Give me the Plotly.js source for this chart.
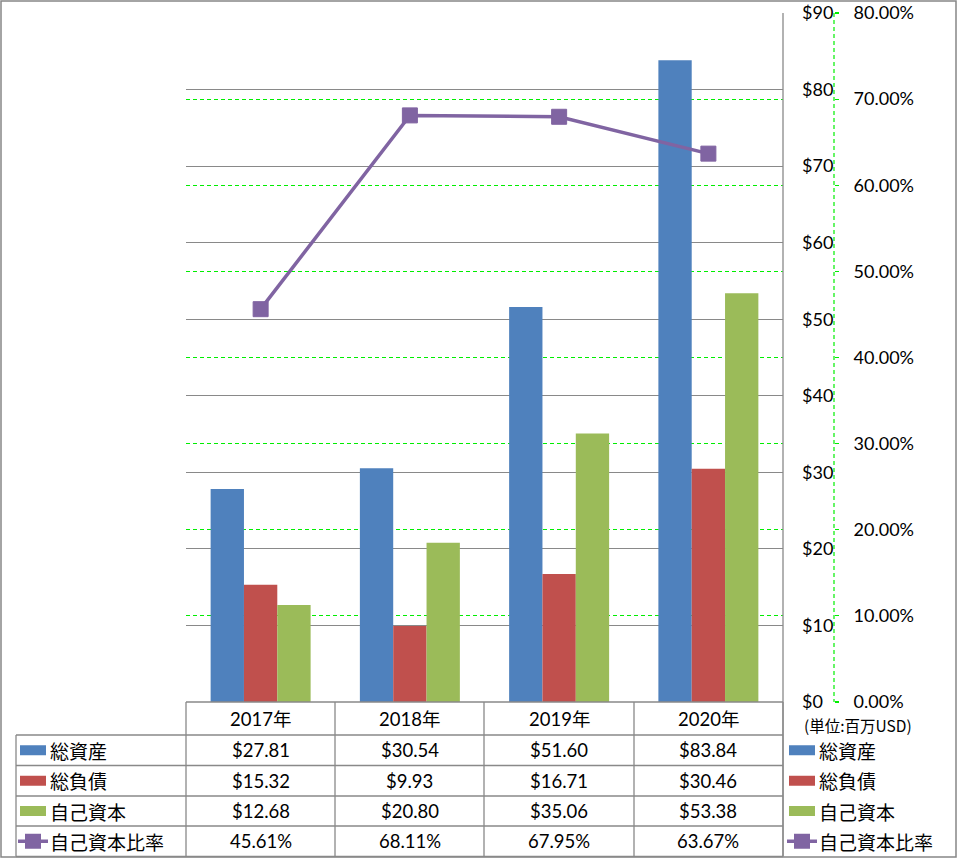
<!DOCTYPE html>
<html>
<head>
<meta charset="utf-8">
<script src="https://cdn.plot.ly/plotly-3.0.1.min.js"></script>
<style>
html,body{margin:0;padding:0;background:#fff;}
#chart{width:957px;height:858px;}
</style>
</head>
<body>
<div id="chart"></div>
<script>
// ---- data ----
const categories = ['2017年', '2018年', '2019年', '2020年'];
const totalAssets = [27.81, 30.54, 51.60, 83.84];
const totalLiabilities = [15.32, 9.93, 16.71, 30.46];
const equity = [12.68, 20.80, 35.06, 53.38];
const equityRatio = [0.4561, 0.6811, 0.6795, 0.6367];
const seriesNames = ['総資産', '総負債', '自己資本', '自己資本比率'];
const unitLabel = '(単位:百万USD)';

// ---- styling ----
const W = 957, H = 858;
const colBlue = '#4F81BD', colRed = '#C0504D', colGreen = '#9BBB59', colPurple = '#8064A2';
const gridGray = '#898989';
const lime = '#00EE00';
const numFont = 'Lato, "Noto Sans CJK JP", sans-serif';
const jpFont = '"Noto Sans CJK JP", Lato, sans-serif';

const px = x => x / W;
const py = y => 1 - y / H;

const plotL = 186, plotR = 783, plotT = 13, plotB = 702;
const axis2X = 834;

const traces = [
  {type: 'bar', name: seriesNames[0], x: categories, y: totalAssets, marker: {color: colBlue}, hoverinfo: 'skip'},
  {type: 'bar', name: seriesNames[1], x: categories, y: totalLiabilities, marker: {color: colRed}, hoverinfo: 'skip'},
  {type: 'bar', name: seriesNames[2], x: categories, y: equity, marker: {color: colGreen}, hoverinfo: 'skip'},
  {type: 'scatter', mode: 'lines+markers', name: seriesNames[3], x: categories, y: equityRatio, yaxis: 'y2',
   line: {color: colPurple, width: 3.5}, marker: {symbol: 'square', size: 15, color: colPurple, line: {color: colPurple, width: 1}}, hoverinfo: 'skip'}
];

// ---- table geometry ----
const rowEdges = [702, 735, 765.5, 796, 826, 856.5];
const colEdges = [plotL, 335, 484, 634, plotR];
const labelLeft = 16;

const shapes = [];
const annotations = [];
const line = (x0, y0, x1, y1, color, width, dash) => shapes.push({type: 'line', xref: 'paper', yref: 'paper',
  x0: px(x0), y0: py(y0), x1: px(x1), y1: py(y1), line: {color: color, width: width, dash: dash || 'solid'}, layer: 'above'});

// outer border
shapes.push({type: 'rect', xref: 'paper', yref: 'paper', x0: px(1), y0: py(1), x1: px(956), y1: py(857),
  line: {color: '#868686', width: 1.5}, layer: 'below'});
// plot right border
line(plotR, plotT, plotR, rowEdges[5], gridGray, 1.3);
// secondary axis dashed line
line(axis2X, plotT, axis2X, plotB, lime, 1.2, '4px,3px');
// table header top (x axis)
line(plotL, plotB, plotR, plotB, gridGray, 1.3);
// horizontal table lines
for (let i = 1; i < rowEdges.length; i++) line(labelLeft, rowEdges[i], plotR, rowEdges[i], gridGray, 1.3);
// vertical lines
line(labelLeft, rowEdges[1], labelLeft, rowEdges[5], gridGray, 1.3);
colEdges.forEach(x => line(x, plotB, x, rowEdges[5], gridGray, 1.3));

// header category labels
categories.forEach((c, i) => annotations.push({xref: 'x', yref: 'paper', x: c, y: py((rowEdges[0] + rowEdges[1]) / 2),
  text: c, showarrow: false, xanchor: 'center', yanchor: 'middle', font: {family: numFont, size: 18.5, color: '#000'}}));

const rowValues = [
  totalAssets.map(v => '$' + v.toFixed(2)),
  totalLiabilities.map(v => '$' + v.toFixed(2)),
  equity.map(v => '$' + v.toFixed(2)),
  equityRatio.map(v => (v * 100).toFixed(2) + '%')
];
const rowColors = [colBlue, colRed, colGreen, colPurple];

function legendSymbol(i, xLeft, yc) {
  if (i < 3) {
    shapes.push({type: 'rect', xref: 'paper', yref: 'paper', x0: px(xLeft), x1: px(xLeft + 26), y0: py(yc - 5), y1: py(yc + 5),
      fillcolor: rowColors[i], line: {width: 0}, layer: 'above'});
  } else {
    line(xLeft - 2, yc, xLeft + 28, yc, colPurple, 3.5);
    shapes.push({type: 'rect', xref: 'paper', yref: 'paper', x0: px(xLeft + 5), x1: px(xLeft + 21), y0: py(yc - 7.5), y1: py(yc + 7.5),
      fillcolor: colPurple, line: {width: 0}, layer: 'above'});
  }
}

for (let r = 0; r < 4; r++) {
  const yc = (rowEdges[r + 1] + rowEdges[r + 2]) / 2;
  legendSymbol(r, 20, yc);
  annotations.push({xref: 'paper', yref: 'paper', x: px(48), y: py(yc), text: seriesNames[r], showarrow: false,
    xanchor: 'left', yanchor: 'middle', font: {family: jpFont, size: 19, color: '#000'}});
  rowValues[r].forEach((t, i) => annotations.push({xref: 'x', yref: 'paper', x: categories[i], y: py(yc), text: t,
    showarrow: false, xanchor: 'center', yanchor: 'middle', font: {family: numFont, size: 18.5, color: '#000'}}));
  legendSymbol(r, 789, yc);
  annotations.push({xref: 'paper', yref: 'paper', x: px(817), y: py(yc), text: seriesNames[r], showarrow: false,
    xanchor: 'left', yanchor: 'middle', font: {family: jpFont, size: 19, color: '#000'}});
}
annotations.push({xref: 'paper', yref: 'paper', x: px(858), y: py(725), text: unitLabel, showarrow: false,
  xanchor: 'center', yanchor: 'middle', font: {family: jpFont, size: 15.5, color: '#000'}});

const yDomain = [py(plotB), py(plotT)];

const layout = {
  width: W, height: H,
  margin: {l: 0, r: 0, t: 0, b: 0, pad: 0},
  paper_bgcolor: '#fff', plot_bgcolor: 'rgba(0,0,0,0)',
  showlegend: false,
  barmode: 'group', bargap: 0.33, bargroupgap: 0,
  xaxis: {domain: [px(plotL), px(plotR)], type: 'category', range: [-0.5, 3.5], showticklabels: false,
    showgrid: false, zeroline: false, showline: false, ticks: '', fixedrange: true},
  yaxis: {domain: yDomain, range: [0, 90], dtick: 10, side: 'right', anchor: 'x', showline: false,
    gridcolor: gridGray, gridwidth: 1, zeroline: false, ticks: '', tickprefix: '$', ticklabelstandoff: 18,
    tickfont: {family: numFont, size: 18, color: '#000'}, fixedrange: true},
  yaxis2: {domain: yDomain, range: [0, 0.8], dtick: 0.1, overlaying: 'y', side: 'right', anchor: 'free',
    position: px(axis2X), showline: false, gridcolor: lime, griddash: '4px,3px', gridwidth: 1, zeroline: false,
    ticks: 'outside', ticklen: 4, tickcolor: lime, tickwidth: 1.2, tickformat: '.2%', ticklabelstandoff: 11,
    tickfont: {family: numFont, size: 18, color: '#000'}, fixedrange: true},
  shapes: shapes,
  annotations: annotations
};

Plotly.newPlot('chart', traces, layout, {displayModeBar: false, staticPlot: true});
</script>
</body>
</html>
